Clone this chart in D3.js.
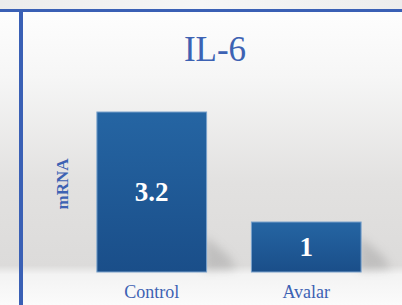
<!DOCTYPE html>
<html><head><meta charset="utf-8">
<script src="https://cdn.jsdelivr.net/npm/d3@7"></script>
<style>html,body{margin:0;padding:0;background:#fff;overflow:hidden}</style>
</head><body>
<script>
const categories = ["Control", "Avalar"];
const values = [3.2, 1];
const valueLabels = ["3.2", "1"];
const title = "IL-6";
const yLabel = "mRNA";

const W = 402, H = 305;
const svg = d3.select("body").append("svg").attr("width", W).attr("height", H);
const defs = svg.append("defs");

const bg = defs.append("linearGradient").attr("id","bg").attr("x1",0).attr("y1",0).attr("x2",0).attr("y2",1);
[[0,"#ffffff"],[0.25,"#f6f6f6"],[0.6,"#e2e1e0"],[0.87,"#dcdbda"],[0.9,"#f3f3f3"],[1,"#fbfbfb"]].forEach(([o,c])=>bg.append("stop").attr("offset",o).attr("stop-color",c));
const topGrad = defs.append("linearGradient").attr("id","topg").attr("x1",0).attr("y1",0).attr("x2",1).attr("y2",0);
[[0,"#ececec"],[0.5,"#f6f6f6"],[1,"#ededed"]].forEach(([o,c])=>topGrad.append("stop").attr("offset",o).attr("stop-color",c));
const barG = defs.append("linearGradient").attr("id","barg").attr("x1",0).attr("y1",0).attr("x2",0).attr("y2",1);
[[0,"#2565a3"],[1,"#1a4e89"]].forEach(([o,c])=>barG.append("stop").attr("offset",o).attr("stop-color",c));
const blur = defs.append("filter").attr("id","blur").attr("x","-50%").attr("y","-50%").attr("width","200%").attr("height","200%");
blur.append("feGaussianBlur").attr("stdDeviation",5);

svg.append("rect").attr("width",W).attr("height",H).attr("fill","url(#bg)");
svg.append("rect").attr("width",W).attr("height",10).attr("fill","url(#topg)");

const x = d3.scaleBand().domain(categories).range([66, 392]).paddingInner(0.29).paddingOuter(0.2);
const y = d3.scaleLinear().domain([0, 3.2]).range([272, 112]);

// shadows
svg.append("g").selectAll("path").data(categories).join("path")
  .attr("d", (d,i)=>{
    const x0 = x(d)+x.bandwidth(), yb = 271, h = Math.min(50, 272 - y(values[i]));
    return `M${x0-2},${yb} L${x0-2},${yb-h*0.7} L${x0+22},${yb-h*0.3} L${x0+30},${yb-2} Z`;
  })
  .attr("fill","#8a8a8a").attr("opacity",0.35).attr("filter","url(#blur)");

svg.append("g").selectAll("rect").data(categories).join("rect")
  .attr("x", d=>x(d)).attr("y",(d,i)=>y(values[i]))
  .attr("width", x.bandwidth()).attr("height",(d,i)=>272-y(values[i]))
  .attr("fill","url(#barg)").attr("stroke","#7aa2cc").attr("stroke-width",1);

const serif = "'Liberation Serif','DejaVu Serif',serif";
svg.append("g").selectAll("text").data(categories).join("text")
  .attr("x", d=>x(d)+x.bandwidth()/2)
  .attr("y", (d,i)=> (y(values[i]) + 272)/2 + 9)
  .attr("text-anchor","middle").attr("fill","#ffffff")
  .attr("font-family",serif).attr("font-weight","bold").attr("font-size",27)
  .text((d,i)=>valueLabels[i]);

const xAxis = d3.axisBottom(x).tickSize(0).tickPadding(13);
const gx = svg.append("g").attr("transform","translate(0,272)").call(xAxis);
gx.select(".domain").remove();
gx.selectAll("text").attr("font-family",serif).attr("font-size",18).attr("fill","#3d62b3");

svg.append("text").attr("x",215).attr("y",61).attr("text-anchor","middle")
  .attr("font-family",serif).attr("font-size",35).attr("fill","#3d62b3").text(title);

svg.append("text").attr("transform","translate(68,184) rotate(-90)").attr("text-anchor","middle")
  .attr("font-family",serif).attr("font-weight","bold").attr("font-size",17).attr("fill","#3d62b3").text(yLabel);

svg.append("rect").attr("x",0).attr("y",9).attr("width",W).attr("height",3).attr("fill","#3a60b5");
svg.append("rect").attr("x",19).attr("y",9).attr("width",4).attr("height",H).attr("fill","#3a60b5");
</script>
</body></html>
